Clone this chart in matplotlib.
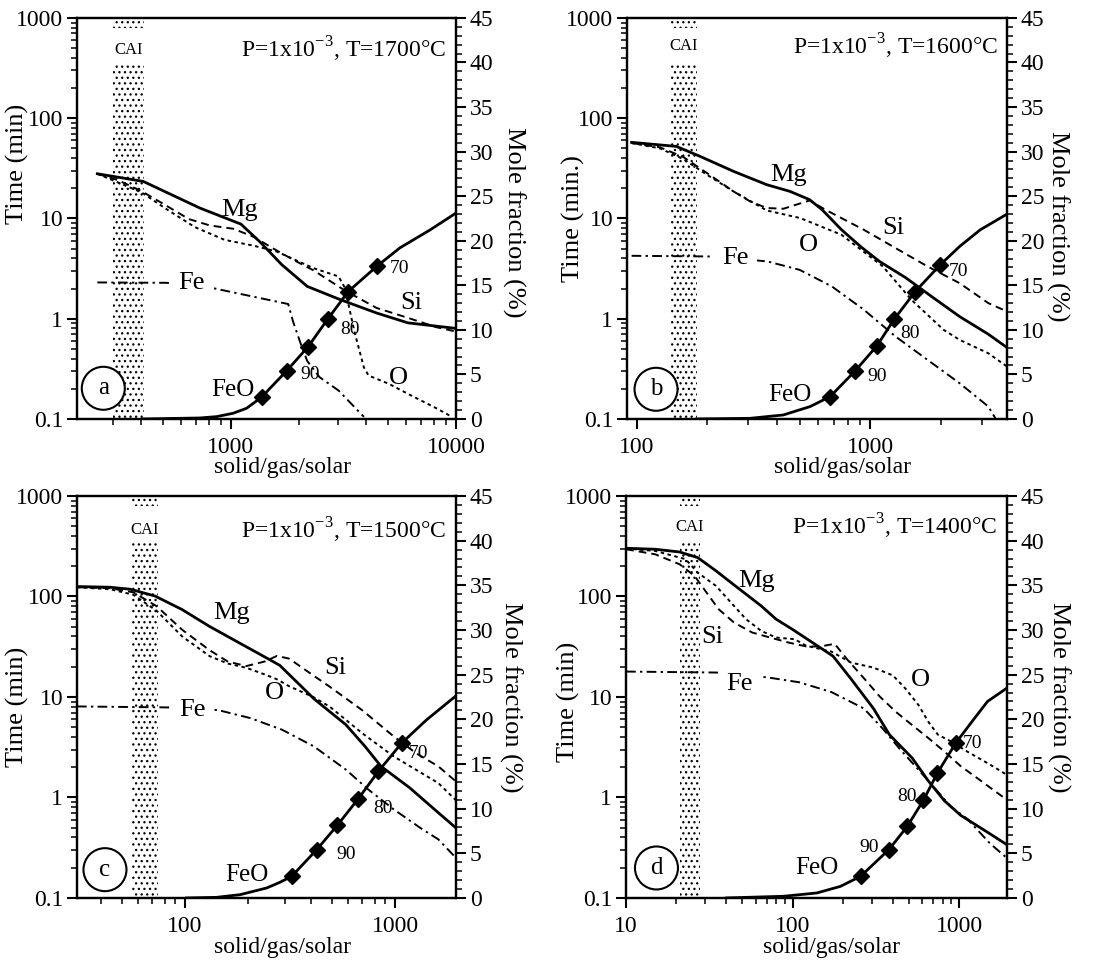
import matplotlib
matplotlib.use("Agg")
import matplotlib.pyplot as plt
import matplotlib.transforms as mtransforms
from matplotlib.patches import Rectangle
from matplotlib.ticker import FixedLocator, LogLocator, MultipleLocator, FuncFormatter, NullFormatter

plt.rcParams["font.family"] = ["Liberation Serif", "DejaVu Serif"]
plt.rcParams["mathtext.fontset"] = "custom"
plt.rcParams["mathtext.rm"] = "Liberation Serif"
plt.rcParams["hatch.linewidth"] = 0.9

# ---------------- data (x = solid/gas/solar) ----------------
letters = ["a", "b", "c", "d"]
temps = [1700, 1600, 1500, 1400]
time_labels = ["Time (min)", "Time (min.)", "Time (min)", "Time (min)"]
x_limits = [(207, 10000), (91, 3850), (30.6, 1950), (10, 1940)]
x_ticks = [[1000, 10000], [100, 1000], [100, 1000], [10, 100, 1000]]
cai_bands = [(300, 410), (140, 182), (56, 74), (21, 28)]

# evaporation time curves (x, minutes)
mg_a = [(255, 27.9), (408, 23.4), (728, 12.7), (1108, 8.78), (1345, 5.85), (1685, 3.45),
        (2184, 2.10), (3061, 1.55), (4440, 1.14), (6119, 0.909), (10000, 0.80)]
si_a = [(255, 27.9), (315, 24.1), (401, 18.7), (511, 13.6), (651, 9.85), (807, 8.51),
        (1028, 7.88), (1270, 6.51), (1532, 5.06), (1892, 3.87), (2331, 3.03), (3211, 1.91),
        (4440, 1.28), (6119, 1.02), (8178, 0.823), (10000, 0.745)]
o_a = [(255, 27.9), (401, 18.2), (511, 12.6), (692, 8.19), (937, 6.12), (1270, 5.33),
       (1596, 4.68), (1854, 4.02), (2331, 3.19), (3010, 2.64), (3211, 2.03), (3533, 0.756),
       (3900, 0.326), (4092, 0.271), (5037, 0.224), (6119, 0.178), (8178, 0.128), (9566, 0.1055)]
fe_a = [(255, 2.30), (518, 2.28), (834, 2.02), (885, 1.96), (1798, 1.40), (1887, 0.944),
        (2047, 0.556), (2184, 0.379), (2478, 0.261), (3010, 0.192), (3900, 0.105)]

mg_b = [(95.2, 57.4), (148, 52.3), (187, 41.6), (260, 29.5), (361, 21.7), (454, 18.6),
        (550, 15.4), (623, 12.2), (754, 7.71), (909, 5.25), (1097, 3.72), (1413, 2.58),
        (1875, 1.60), (2415, 1.05), (3204, 0.70), (3853, 0.515)]
si_b = [(95.2, 56.5), (126, 51.2), (158.5, 41.0), (200, 28.4), (260, 18.6), (306, 14.8),
        (361, 12.7), (425, 12.5), (550, 15.1), (644, 12.2), (939, 7.71), (1284, 5.06),
        (1761, 3.32), (2415, 2.26), (3204, 1.43), (3853, 1.18)]
o_b = [(95.2, 56.5), (126, 50.0), (158.5, 39.1), (200, 27.3), (260, 18.6), (361, 12.0),
       (501, 10.1), (754, 6.87), (1133, 3.32), (1503, 1.54), (2062, 0.774), (2415, 0.615),
       (3204, 0.452), (3853, 0.333)]
fe_b = [(95.2, 4.24), (220, 4.17), (364, 3.72), (499, 3.07), (685, 2.10), (939, 1.23),
        (1284, 0.664), (1761, 0.388), (2415, 0.227), (3204, 0.133), (3434, 0.1016)]

mg_c = [(30.6, 125.5), (44, 123.6), (55, 118), (72, 101), (97, 74), (131, 50.3),
        (177, 35.5), (256, 23.2), (283, 20.6), (411, 9.6), (584, 5.29), (720, 3.22),
        (858, 2.04), (1174, 1.25), (1608, 0.705), (1952, 0.497)]
si_c = [(30.6, 123.6), (44, 121), (56.8, 110), (73.3, 80), (97, 46.6), (131, 29.2),
        (160, 22.5), (196, 20.3), (239, 22.5), (274, 25.6), (313, 24.1), (408, 16.4),
        (490, 12.6), (697, 7.40), (986, 4.05), (1259, 2.76), (1608, 2.04), (1952, 1.44)]
o_c = [(30.6, 123.6), (44, 118), (56.8, 104), (73.3, 72), (97, 40), (131, 25.5),
       (160, 21.5), (196, 19.5), (239, 16.8), (274, 15.0), (313, 12.8), (408, 10.0),
       (490, 7.98), (697, 4.37), (986, 2.56), (1608, 1.39), (1952, 0.936)]
fe_c = [(30.6, 8.05), (88, 7.86), (144, 7.40), (205, 6.16), (290, 4.72), (411, 3.22),
        (584, 1.89), (746, 1.20), (986, 0.761), (1350, 0.482), (1608, 0.383), (1952, 0.250)]

mg_d = [(10, 301.8), (15.0, 295), (21.0, 277), (26.9, 244), (34.7, 180), (42.7, 137.5),
        (52.6, 105.3), (64.8, 80.6), (79.7, 59.4), (100, 47), (175, 25.5), (224, 15.2),
        (306, 7.69), (382, 4.21), (523, 2.47), (654, 1.46), (816, 0.928), (1023, 0.664),
        (1530, 0.436), (1937, 0.339)]
si_d = [(10, 295), (14.95, 263), (21.0, 209), (25.8, 160), (30.5, 109), (36.0, 74.7),
        (44.5, 55.0), (57.2, 43.8), (73.4, 39.0), (94.6, 34.8), (121, 31.8), (146.8, 31.8),
        (179, 33.8), (214, 23.4), (268, 15.4), (334, 10.1), (417, 7.12), (523, 5.25),
        (654, 3.90), (816, 2.87), (1023, 2.05), (1278, 1.57), (1530, 1.26), (1937, 0.949)]
o_d = [(10, 299.5), (14.95, 284), (22.8, 235), (26.9, 173), (34.7, 127.4), (44.5, 80.6),
       (52.6, 59.4), (64.8, 45.5), (79.7, 39.0), (102.8, 37.6), (121, 32.3), (171, 28.3),
       (224, 22.0), (306, 19.6), (400, 16.4), (477, 12.1), (571, 8.30), (654, 5.66),
       (747, 4.21), (895, 3.61), (1117, 2.87), (1530, 2.13), (1937, 1.68)]
fe_d = [(10, 17.9), (35.0, 17.5), (70.0, 15.7), (109.7, 14.0), (171, 11.2), (268, 7.69),
        (350, 4.79), (445, 2.98), (561, 1.95), (714, 1.24), (891, 0.815), (1123, 0.610),
        (1530, 0.350), (1937, 0.250)]

# FeO mole fraction (x, %)
feo_a = [(408, 0.0), (728, 0.11), (864, 0.26), (1024, 0.64), (1174, 1.20), (1368, 2.43),
         (1542, 3.82), (1768, 5.39), (2206, 8.12), (2690, 11.19), (3323, 14.30), (4440, 17.11),
         (5638, 19.2), (7662, 21.2), (10000, 23.1)]
feo_b = [(181, 0.0), (306, 0.07), (425, 0.45), (553, 1.39), (674, 2.51), (862, 5.39),
         (1068, 8.20), (1267, 11.19), (1559, 14.30), (1995, 17.30), (2415, 19.36),
         (2960, 21.23), (3853, 22.99)]
feo_c = [(101.8, 0.0), (141.5, 0.07), (183, 0.37), (245, 1.12), (283, 1.75), (322, 2.42),
         (424, 5.41), (531, 8.13), (669, 11.11), (833, 14.17), (1076, 17.34), (1415, 19.95),
         (1952, 22.63)]
feo_d = [(40, 0.0), (88.3, 0.19), (140, 0.56), (194, 1.30), (256, 2.42), (379, 5.41),
         (489, 8.02), (610, 10.92), (741, 13.98), (955, 17.34), (1176, 19.57), (1482, 22.0),
         (1937, 23.49)]

# Fo content markers on the FeO curve (95 ... 70)
marks_a = [(1368, 2.43), (1768, 5.39), (2206, 8.12), (2690, 11.19), (3323, 14.30), (4440, 17.11)]
marks_b = [(674, 2.51), (862, 5.39), (1068, 8.20), (1267, 11.19), (1559, 14.30), (1995, 17.30)]
marks_c = [(322, 2.42), (424, 5.41), (531, 8.13), (669, 11.11), (833, 14.17), (1076, 17.34)]
marks_d = [(256, 2.42), (379, 5.41), (489, 8.02), (610, 10.92), (741, 13.98), (955, 17.34)]
fo_labels = ["90", "80", "70"]

curves = [(mg_a, si_a, o_a, fe_a, feo_a, marks_a),
          (mg_b, si_b, o_b, fe_b, feo_b, marks_b),
          (mg_c, si_c, o_c, fe_c, feo_c, marks_c),
          (mg_d, si_d, o_d, fe_d, feo_d, marks_d)]

# ---------------- layout ----------------
axes_rects = [(0.0699, 0.5654, 0.3442, 0.416), (0.5695, 0.5654, 0.3451, 0.416),
              (0.0699, 0.0685, 0.3442, 0.417), (0.5686, 0.0685, 0.3460, 0.417)]
# text positions in axes fraction: Mg, Si, O, Fe, FeO, 90, 80, 70, letter
text_pos = [
    [(0.430, 0.522), (0.883, 0.289), (0.848, 0.1015), (0.3026, 0.340), (0.4125, 0.0724),
     (0.615, 0.110), (0.720, 0.222), (0.852, 0.376), (0.0695, 0.0765)],
    [(0.425, 0.609), (0.7015, 0.476), (0.4776, 0.434), (0.2845, 0.401), (0.4276, 0.060),
     (0.6576, 0.1057), (0.745, 0.2138), (0.8727, 0.3677), (0.0764, 0.074)],
    [(0.408, 0.708), (0.681, 0.572), (0.522, 0.5095), (0.305, 0.468), (0.448, 0.058),
     (0.7115, 0.1077), (0.808, 0.2237), (0.9006, 0.360), (0.0739, 0.0704)],
    [(0.343, 0.7887), (0.2265, 0.648), (0.7735, 0.5427), (0.2976, 0.5323), (0.5013, 0.0746),
     (0.6374, 0.1243), (0.7384, 0.2527), (0.9096, 0.3853), (0.0799, 0.0746)],
]
title_y = [0.921, 0.929, 0.9155, 0.924]
xlabel_x = [0.543, 0.568, 0.543, 0.54]
ylabel_left = [(-0.156, 0.636), (-0.142, 0.50), (-0.156, 0.475), (-0.152, 0.488)]
ylabel_right = [(1.153, 0.49), (1.134, 0.48), (1.145, 0.50), (1.136, 0.50)]


def xy(pts):
    return [p[0] for p in pts], [p[1] for p in pts]


fmt = FuncFormatter(lambda v, p: "%g" % v)

fig = plt.figure(figsize=(11.01, 9.64), dpi=100)

for k in range(4):
    mg, si, o, fe, feo, marks = curves[k]
    ax = fig.add_axes(axes_rects[k])
    ax.set_xscale("log")
    ax.set_yscale("log")
    ax.set_xlim(*x_limits[k])
    ax.set_ylim(0.1, 1000)

    # CAI stippled band, interrupted by its label
    x0, x1 = cai_bands[k]
    for y0, y1 in [(0.1, 345), (800, 1000)]:
        ax.add_patch(Rectangle((x0, y0), x1 - x0, y1 - y0, facecolor="none",
                               edgecolor="black", hatch="...", linewidth=0, zorder=1))
    tr = mtransforms.blended_transform_factory(ax.transData, ax.transAxes)
    ax.text((x0 * x1) ** 0.5, title_y[k], "CAI", transform=tr, ha="center", va="center",
            fontsize=12)

    ax.plot(*xy(mg), color="black", lw=2.0, zorder=3)
    ax.plot(*xy(si), color="black", lw=1.4, dashes=(4, 2.6), zorder=3)
    ax.plot(*xy(o), color="black", lw=1.4, dashes=(1.8, 1.8), zorder=3)
    ax.plot(*xy(fe), color="black", lw=1.4, dashes=(5, 2.2, 1.2, 2.2), zorder=3)

    ax2 = ax.twinx()
    ax2.set_ylim(0, 45)
    ax2.plot(*xy(feo), color="black", lw=2.0, zorder=3)
    ax2.plot(*xy(marks), linestyle="none", marker="D", markersize=8.5, color="black", zorder=4)

    tp = text_pos[k]
    for name, pos in zip(["Mg", "Si", "O"], tp[:3]):
        ax.text(*pos, name, transform=ax.transAxes, ha="center", va="center", fontsize=19,
                zorder=5)
    ax.text(*tp[3], "Fe", transform=ax.transAxes, ha="center", va="center", fontsize=19,
            zorder=5, bbox=dict(facecolor="white", edgecolor="none", pad=6))
    ax.text(*tp[4], "FeO", transform=ax.transAxes, ha="center", va="center", fontsize=18,
            zorder=5)
    for lab, pos in zip(fo_labels, tp[5:8]):
        ax.text(*pos, lab, transform=ax.transAxes, ha="center", va="center", fontsize=14,
                zorder=5)
    ax.text(*tp[8], letters[k], transform=ax.transAxes, ha="center", va="center",
            fontsize=18, zorder=6,
            bbox=dict(boxstyle="circle,pad=0.42", facecolor="white", edgecolor="black", lw=1.5))
    ax.text(0.975, title_y[k], r"P=1x10$^{\mathregular{-3}}$, T=%d°C" % temps[k],
            transform=ax.transAxes, ha="right", va="center", fontsize=17)

    # axes styling
    for sp in ax.spines.values():
        sp.set_linewidth(1.6)
    ax.xaxis.set_major_locator(FixedLocator(x_ticks[k]))
    ax.xaxis.set_major_formatter(fmt)
    ax.xaxis.set_minor_locator(LogLocator(base=10, subs=range(2, 10)))
    ax.xaxis.set_minor_formatter(NullFormatter())
    ax.yaxis.set_major_locator(FixedLocator([0.1, 1, 10, 100, 1000]))
    ax.yaxis.set_major_formatter(fmt)
    ax.yaxis.set_minor_locator(LogLocator(base=10, subs=range(2, 10)))
    ax.yaxis.set_minor_formatter(NullFormatter())
    ax.tick_params(which="both", direction="out", top=False, right=False, labelsize=17)
    ax.tick_params(which="major", length=7, width=1.5, pad=3)
    ax.tick_params(which="minor", length=4, width=1.1)
    ax.tick_params(axis="x", which="major", pad=6)

    ax2.yaxis.set_major_locator(MultipleLocator(5))
    ax2.yaxis.set_minor_locator(MultipleLocator(1))
    ax2.tick_params(which="both", direction="out", labelsize=17)
    ax2.tick_params(which="major", length=7, width=1.5, pad=3)
    ax2.tick_params(which="minor", length=4, width=1.1)
    for sp in ax2.spines.values():
        sp.set_linewidth(1.6)

    ax.set_xlabel("solid/gas/solar", fontsize=17, va="center")
    ax.xaxis.set_label_coords(xlabel_x[k], -0.122)
    ax.set_ylabel(time_labels[k], fontsize=19, va="center")
    ax.yaxis.set_label_coords(*ylabel_left[k])
    ax2.set_ylabel("Mole fraction (%)", fontsize=19, rotation=270, va="center")
    ax2.yaxis.set_label_coords(*ylabel_right[k])

fig.savefig("out.png", dpi=100)
